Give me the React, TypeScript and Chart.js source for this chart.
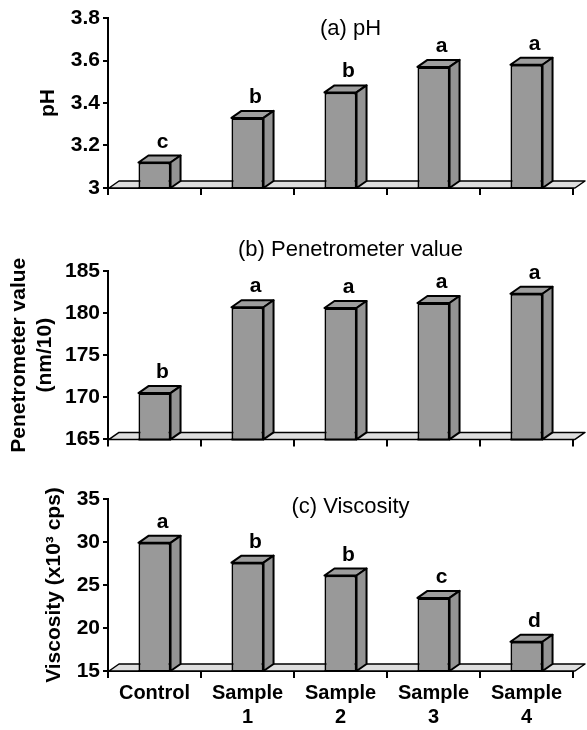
import React, { useEffect, useRef } from 'react';
import { Chart, registerables } from 'chart.js';

Chart.register(...registerables);
Chart.defaults.font.family = '"Liberation Sans", Arial, sans-serif';

// ---------- data ----------
const categories: (string | string[])[] = ['Control', ['Sample', '1'], ['Sample', '2'], ['Sample', '3'], ['Sample', '4']];

const phValues = [3.12, 3.33, 3.45, 3.57, 3.58];
const phLetters = ['c', 'b', 'b', 'a', 'a'];

const penValues = [170.5, 180.7, 180.6, 181.2, 182.3];
const penLetters = ['b', 'a', 'a', 'a', 'a'];

const viscValues = [29.9, 27.6, 26.1, 23.5, 18.4];
const viscLetters = ['a', 'b', 'b', 'c', 'd'];

const phTicks = { min: 3, max: 3.8, step: 0.2 };
const penTicks = { min: 165, max: 185, step: 5 };
const viscTicks = { min: 15, max: 35, step: 5 };

// ---------- drawing helpers ----------
const DX = 10;
const DY = 7;

function poly(ctx: CanvasRenderingContext2D, pts: number[][], fill: string, lw = 2) {
  ctx.beginPath();
  ctx.moveTo(pts[0][0], pts[0][1]);
  for (let i = 1; i < pts.length; i++) ctx.lineTo(pts[i][0], pts[i][1]);
  ctx.closePath();
  ctx.fillStyle = fill;
  ctx.fill();
  ctx.lineWidth = lw;
  ctx.lineJoin = 'round';
  ctx.strokeStyle = '#000';
  ctx.stroke();
}

const bar3d = {
  id: 'bar3d',
  beforeDatasetsDraw(chart: any) {
    const { ctx, chartArea } = chart;
    const { left, right, bottom } = chartArea;
    ctx.save();
    poly(ctx, [
      [left + 1, bottom],
      [left + 1 + DX, bottom - DY],
      [right + 2 + DX, bottom - DY],
      [right + 2, bottom],
    ], '#dedede', 1.5);
    ctx.restore();
  },
  afterDatasetsDraw(chart: any) {
    const { ctx, chartArea } = chart;
    const meta = chart.getDatasetMeta(0);
    ctx.save();
    meta.data.forEach((bar: any) => {
      const { x, y, base, width } = bar.getProps(['x', 'y', 'base', 'width'], true);
      const b = Math.min(base, chartArea.bottom);
      const l = x - width / 2;
      const r = x + width / 2;
      poly(ctx, [[l, y], [l + DX, y - DY], [r + DX, y - DY], [r, y]], '#9e9e9e');
      poly(ctx, [[r, y], [r + DX, y - DY], [r + DX, b - DY], [r, b]], '#949494');
      ctx.beginPath();
      ctx.moveTo(l, b);
      ctx.lineTo(r, b);
      ctx.lineWidth = 2;
      ctx.strokeStyle = '#000';
      ctx.stroke();
    });
    ctx.restore();
  },
  afterDraw(chart: any, _args: any, opts: any) {
    const { ctx, chartArea } = chart;
    const meta = chart.getDatasetMeta(0);
    ctx.save();
    ctx.fillStyle = '#000';
    ctx.textAlign = 'center';
    ctx.textBaseline = 'alphabetic';
    ctx.font = 'bold 21px "Liberation Sans", Arial, sans-serif';
    meta.data.forEach((bar: any, i: number) => {
      const { x, y } = bar.getProps(['x', 'y'], true);
      ctx.fillText(opts.letters[i], x + 8, y - DY - 8);
    });
    ctx.font = '22px "Liberation Sans", Arial, sans-serif';
    ctx.textBaseline = 'middle';
    ctx.fillText(opts.title, (chartArea.left + chartArea.right) / 2 + 10, chartArea.top + opts.titleDy);
    ctx.restore();
  },
};

const fmtTick = (v: any) => String(Number(Number(v).toFixed(2)));

// ---------- panel ----------
type PanelProps = {
  values: number[];
  letters: string[];
  ticks: { min: number; max: number; step: number };
  yTitle: string | string[];
  title: string;
  titleDy: number;
  showX: boolean;
  top: number;
  height: number;
  padTop: number;
  xHeight: number;
  yTitlePad: number;
};

function Panel(p: PanelProps) {
  const ref = useRef<HTMLCanvasElement>(null);
  useEffect(() => {
    if (!ref.current) return;
    const chart = new Chart(ref.current, {
      type: 'bar',
      data: {
        labels: categories,
        datasets: [
          {
            data: p.values,
            backgroundColor: '#999999',
            borderColor: '#000000',
            borderWidth: 2,
            borderSkipped: false,
            barPercentage: 0.345,
            categoryPercentage: 1,
          },
        ],
      },
      options: {
        animation: false,
        responsive: false,
        maintainAspectRatio: false,
        layout: { padding: { top: p.padTop, right: 14, bottom: 0, left: 0 } },
        plugins: {
          legend: { display: false },
          tooltip: { enabled: false },
          title: { display: false },
          bar3d: { letters: p.letters, title: p.title, titleDy: p.titleDy },
        } as any,
        scales: {
          x: {
            grid: { display: true, drawOnChartArea: false, drawTicks: true, tickLength: 7, color: '#000', lineWidth: 2, offset: true },
            border: { display: true, color: '#000', width: 2 },
            ticks: { display: p.showX, color: '#000', font: { size: 20, weight: 'bold' }, padding: 3, maxRotation: 0, autoSkip: false },
            afterFit: (s: any) => { s.height = p.xHeight; },
          },
          y: {
            min: p.ticks.min,
            max: p.ticks.max,
            ticks: { stepSize: p.ticks.step, color: '#000', font: { size: 21, weight: 'bold' }, padding: 3, callback: fmtTick },
            grid: { drawOnChartArea: false, drawTicks: true, tickLength: 5, color: '#000', lineWidth: 2 },
            border: { display: true, color: '#000', width: 2 },
            title: { display: true, text: p.yTitle, color: '#000', font: { size: 21, weight: 'bold' }, padding: { top: p.yTitlePad, bottom: 0 } },
            afterFit: (s: any) => { s.width = 108; },
          },
        } as any,
      },
      plugins: [bar3d],
    });
    return () => chart.destroy();
  }, []);
  return (
    <canvas
      ref={ref}
      width={587}
      height={p.height}
      style={{ position: 'absolute', left: 0, top: p.top, width: 587, height: p.height, display: 'block' }}
    />
  );
}

export default function App() {
  return (
    <div style={{ position: 'absolute', left: 0, top: 0, width: 587, height: 730, background: '#fff', overflow: 'hidden' }}>
      <Panel values={phValues} letters={phLetters} ticks={phTicks} yTitle="pH" title="(a) pH" titleDy={11}
        showX={false} top={0} height={205} padTop={18} xHeight={17} yTitlePad={36} />
      <Panel values={penValues} letters={penLetters} ticks={penTicks} yTitle={['Penetrometer value', '(nm/10)']}
        title="(b) Penetrometer value" titleDy={-21} showX={false} top={210} height={245} padTop={61} xHeight={15} yTitlePad={7} />
      <Panel values={viscValues} letters={viscLetters} ticks={viscTicks} yTitle="Viscosity (x10³ cps)"
        title="(c) Viscosity" titleDy={8} showX={true} top={455} height={275} padTop={44} xHeight={59} yTitlePad={42} />
    </div>
  );
}
